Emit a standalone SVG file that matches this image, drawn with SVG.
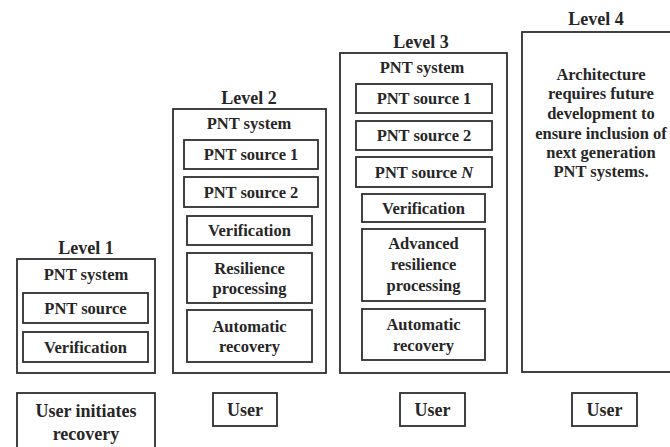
<svg xmlns="http://www.w3.org/2000/svg" width="670" height="447" viewBox="0 0 670 447">
<style>
  rect { fill: none; stroke: #2e2e2e; stroke-width: 1.8; }
  text { font-family: "Liberation Serif", "Times New Roman", serif; font-weight: bold; fill: #262626; text-anchor: middle; }
  .t { font-size: 18px; }
  .i { font-size: 16.5px; }
  .u { font-size: 18px; }
</style>
<rect x="0" y="0" width="670" height="447" style="fill:#fff;stroke:none"/>

<g id="level1">
  <text class="t" x="86" y="254">Level 1</text>
  <rect x="17" y="259" width="138" height="114"/>
  <text class="i" x="86" y="280">PNT system</text>
  <g id="l1-source"><rect x="23" y="293" width="125" height="30"/><text class="i" x="85.5" y="314">PNT source</text></g>
  <g id="l1-verif"><rect x="23" y="332" width="125" height="30"/><text class="i" x="85.5" y="353">Verification</text></g>
</g>

<g id="level2">
  <text class="t" x="249" y="104">Level 2</text>
  <rect x="173" y="109" width="153" height="264"/>
  <text class="i" x="249" y="129">PNT system</text>
  <g id="l2-source1"><rect x="184" y="140" width="134" height="29"/><text class="i" x="251" y="160">PNT source 1</text></g>
  <g id="l2-source2"><rect x="184" y="177" width="134" height="30"/><text class="i" x="251" y="198">PNT source 2</text></g>
  <g id="l2-verif"><rect x="187" y="216" width="125" height="29"/><text class="i" x="249.5" y="236">Verification</text></g>
  <g id="l2-resil"><rect x="187" y="253" width="125" height="50"/><text class="i" x="249.5" y="274">Resilience</text><text class="i" x="249.5" y="294">processing</text></g>
  <g id="l2-auto"><rect x="187" y="310" width="125" height="52"/><text class="i" x="249.5" y="332">Automatic</text><text class="i" x="249.5" y="352">recovery</text></g>
</g>

<g id="level3">
  <text class="t" x="421" y="48">Level 3</text>
  <rect x="340" y="53" width="167" height="320"/>
  <text class="i" x="422" y="73">PNT system</text>
  <g id="l3-source1"><rect x="356" y="84" width="136" height="29"/><text class="i" x="424" y="104">PNT source 1</text></g>
  <g id="l3-source2"><rect x="356" y="121" width="136" height="29"/><text class="i" x="424" y="141">PNT source 2</text></g>
  <g id="l3-sourceN"><rect x="356" y="157" width="136" height="30"/><text class="i" x="424" y="178">PNT source <tspan font-style="italic">N</tspan></text></g>
  <g id="l3-verif"><rect x="362" y="194" width="123" height="28"/><text class="i" x="423.5" y="214">Verification</text></g>
  <g id="l3-adv"><rect x="362" y="229" width="123" height="72"/><text class="i" x="423.5" y="249">Advanced</text><text class="i" x="423.5" y="270">resilience</text><text class="i" x="423.5" y="291">processing</text></g>
  <g id="l3-auto"><rect x="362" y="309" width="123" height="51"/><text class="i" x="423.5" y="330">Automatic</text><text class="i" x="423.5" y="351">recovery</text></g>
</g>

<g id="level4">
  <text class="t" x="596" y="25">Level 4</text>
  <rect x="522" y="32" width="160" height="340"/>
  <text class="i" x="601" y="80">Architecture</text>
  <text class="i" x="601" y="99">requires future</text>
  <text class="i" x="601" y="119">development to</text>
  <text class="i" x="601" y="139">ensure inclusion of</text>
  <text class="i" x="601" y="158">next generation</text>
  <text class="i" x="601" y="177">PNT systems.</text>
</g>

<g id="user1"><rect x="17" y="393" width="138" height="60"/><text class="u" x="86" y="417">User initiates</text><text class="u" x="86" y="440">recovery</text></g>
<g id="user2"><rect x="213" y="393" width="64" height="33"/><text class="u" x="245" y="416">User</text></g>
<g id="user3"><rect x="400" y="393" width="65" height="33"/><text class="u" x="432.5" y="416">User</text></g>
<g id="user4"><rect x="572" y="393" width="65" height="33"/><text class="u" x="604.5" y="416">User</text></g>

<g id="connectors"></g>
</svg>
